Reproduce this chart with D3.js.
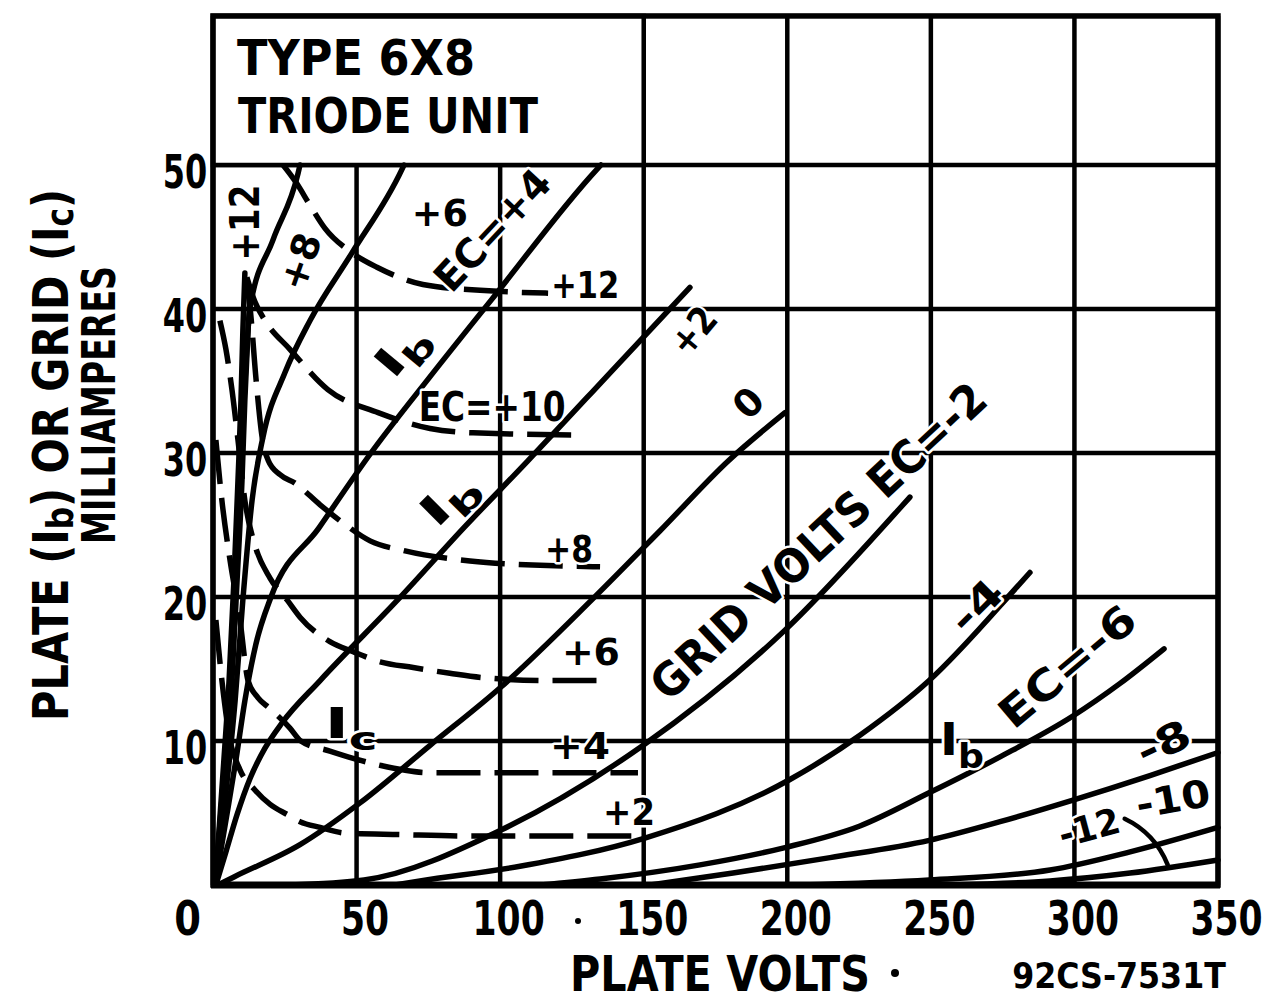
<!DOCTYPE html>
<html><head><meta charset="utf-8">
<script src="https://cdn.jsdelivr.net/npm/d3@7"></script>
<style>html,body{margin:0;padding:0;background:#fff;} svg{display:block}</style>
</head><body><svg id="c" width="1264" height="1003"></svg>
<script>
// ---------- data ----------
const X_TICKS = [0, 50, 100, 150, 200, 250, 300, 350];
const Y_TICKS = [10, 20, 30, 40, 50];
const Y_MAX = 60.35;            // top of the ruled area (mA)
const BOX_V = 150, BOX_I = 50;  // title box corner (volts, mA)

// Plate current Ib (solid), points: [plate volts, mA]
const ib_p12 = [[0.7,0],[2.1,3.8],[3.8,8.7],[5.6,14.2],[7.3,21.2],[8.7,28.1],[9.75,33.7],[10.4,38.5],[11.1,42.5]];
const ib_p10 = [[1.0,0],[2.8,3.8],[4.9,8.7],[6.6,14.2],[8.4,21.2],[10.1,28.1],[11.1,33.7],[12.2,38.5],[12.9,40.6]];
const ib_p8  = [[0.7,0],[3.1,5.9],[5.6,12.8],[7.3,19.8],[9.1,26.7],[10.8,33.7],[12.9,40.1],[20.9,44.8],[29.6,49.4],[30.3,50]];
const ib_p6  = [[0.7,0],[4.2,5.9],[7.7,12.8],[10.4,19.8],[13.6,26.7],[17.4,31.1],[25.1,35.6],[33.8,39.2],[48.4,43.9],[65.8,49.7],[66.5,50]];
const ib_p4  = [[0.7,0],[4.5,4.5],[8.0,8.7],[11.1,12.8],[14.9,16.7],[20.2,20],[36.9,24.8],[55.0,30.0],[75.2,35.2],[96.8,40.6],[133.7,49.7],[135.1,50]];
const ib_p2  = [[1.0,0],[4.5,2.3],[8.4,4.9],[12.9,7.4],[18.1,9.5],[24.0,11.25],[37.3,14.2],[64.8,19.9],[87.8,24.9],[109.4,29.4],[141.7,36.3],[166.1,41.5]];
const ib_0   = [[1.7,0],[7.3,0.56],[30.3,2.8],[51.2,5.7],[75.6,9.7],[100.3,13.75],[131.9,19.8],[155.7,24.6],[179.7,29.5],[199.2,32.8]];
const ib_m2  = [[26.8,0],[52.6,0.35],[100.3,3.82],[149.1,9.6],[199.2,17.7],[239.6,26.25],[242.7,26.94]];
const ib_m4  = [[63.4,0],[72.1,0.28],[106.9,1.3],[150.4,3.26],[200.6,7.29],[225.3,10.4],[249.4,14.2],[280,20.7],[284.5,21.7]];
const ib_m6  = [[113.9,0],[134.8,0.42],[169.6,1.4],[199.2,2.6],[225.3,4.1],[249.4,6.4],[274.1,8.9],[299.2,11.7],[315.9,14.0],[331.2,16.4]];
const ib_m8  = [[152.2,0],[181.1,0.83],[214.9,1.9],[249.4,3.1],[274.1,4.4],[299.5,5.9],[326.3,7.6],[350,9.2]];
const ib_m10 = [[204.4,0],[249.4,0.35],[291.5,1.04],[319.4,2.3],[350,4.0]];
const ib_m12 = [[256.7,0],[291.5,0.28],[319.4,0.83],[350,1.74]];

// Grid current Ic (dashed), points: [plate volts, mA]
const ic_p12 = [[24.4,50],[28.9,48.8],[33.8,47.2],[39,45.6],[47.7,44],[57.1,42.9],[73.1,41.7],[93,41.3],[116.7,41.1]];
const ic_p10 = [[11.8,42.2],[14.6,40.5],[18.1,39.2],[26.8,37.2],[40.0,34.4],[57.5,32.8],[75.6,31.7],[90.6,31.4],[128.9,31.25]];
const ic_p8  = [[11.5,42.0],[12.9,40.1],[15.0,35.1],[17.1,31.1],[19.2,29.5],[23.3,28.5],[28.6,27.9],[37.3,26.4],[44.9,25.2],[54.7,23.9],[66.9,23.2],[89.5,22.5],[113.9,22.2],[134.8,22.1]];
const ic_p6  = [[2.4,39.2],[4.5,37.2],[6.6,34.4],[8.7,30.9],[11.1,26.7],[14.6,23.6],[19.9,21.3],[25.8,19.8],[30.3,18.6],[40.7,16.9],[48.8,16.2],[58.2,15.5],[69.7,15.1],[82.5,14.7],[94,14.4],[117.4,14.2],[138.3,14.2]];
const ic_p4  = [[1,30.9],[3.1,26.7],[5.9,22.6],[9.4,18.4],[12.2,14.2],[15.7,13.0],[19.5,12.3],[26.8,10.9],[30.6,10],[40.7,9.3],[48.8,8.8],[58.5,8.3],[75.9,7.8],[100,7.8],[148,7.8]];
const ic_p2  = [[1,18.4],[3.1,14.2],[5.9,10.1],[9.4,8],[14.6,6.6],[19.9,5.6],[25.8,4.9],[30.3,4.4],[37.3,4],[46.3,3.6],[65.1,3.5],[88.1,3.4],[114.2,3.4],[149,3.4]];

const IB_SERIES = [ib_p12, ib_p10, ib_p8, ib_p6, ib_p4, ib_p2, ib_0, ib_m2, ib_m4, ib_m6, ib_m8, ib_m10, ib_m12];
const IC_SERIES = [ic_p12, ic_p10, ic_p8, ic_p6, ic_p4, ic_p2];

// ---------- drawing ----------
const FONT = "'DejaVu Sans','Liberation Sans',sans-serif";
const svg = d3.select("#c");
svg.append("rect").attr("width",1264).attr("height",1003).attr("fill","#fff");

const x = d3.scaleLinear().domain([0, 350]).range([213, 1218]);
const y = d3.scaleLinear().domain([0, 50]).range([885, 165]);

function addText(segs, o) {
  const g = svg.append("g").attr("transform", `translate(${o.x},${o.y}) rotate(${o.rot || 0})`);
  const t = g.append("text").attr("text-anchor", "middle").attr("dy", "0.36em")
    .attr("fill", "#000").style("font-family", FONT).style("font-weight", "bold")
    .style("font-size", o.size + "px");
  if (typeof segs === "string") segs = [{t: segs}];
  const sh = o.subShift == null ? 0.28 : o.subShift;
  let shifted = false;
  segs.forEach(s => {
    const ts = t.append("tspan").text(s.t);
    if (s.sub) { ts.style("font-size", (o.size * 0.75) + "px").attr("dy", o.size * sh); shifted = true; }
    else if (shifted) { ts.attr("dy", -o.size * sh); shifted = false; }
  });
  if (o.halo) t.attr("stroke", "#fff").attr("stroke-width", o.halo).attr("stroke-linejoin", "round").attr("paint-order", "stroke");
  if (o.len) {
    const w = t.node().getBBox().width;
    if (w > 0) t.attr("transform", `scale(${o.len / w},1)`);
  }
  return t;
}

// grid
const grid = svg.append("g").attr("stroke", "#000").attr("stroke-width", 4.5);
X_TICKS.forEach(v => grid.append("line").attr("x1", x(v)).attr("x2", x(v)).attr("y1", y(0)).attr("y2", y(Y_MAX)));
Y_TICKS.forEach(v => grid.append("line").attr("x1", x(0)).attr("x2", x(350)).attr("y1", y(v)).attr("y2", y(v)));

// title box
svg.append("rect").attr("x", x(0)).attr("y", y(Y_MAX)).attr("width", x(BOX_V) - x(0)).attr("height", y(BOX_I) - y(Y_MAX))
  .attr("fill", "#fff").attr("stroke", "#000").attr("stroke-width", 4.5);

// curves
const line = d3.line().x(d => x(d[0])).y(d => y(d[1])).curve(d3.curveMonotoneX);
const curves = svg.append("g").attr("fill", "none").attr("stroke", "#000").attr("stroke-linecap", "round").attr("stroke-linejoin", "round");
IB_SERIES.forEach(s => curves.append("path").attr("d", line(s)).attr("stroke-width", 5.5));
IC_SERIES.forEach(s => curves.append("path").attr("d", line(s)).attr("stroke-width", 5.5).attr("stroke-dasharray", "44 14").attr("stroke-linecap", "butt"));

// leader from "-12" label to its curve
curves.append("path").attr("stroke-width", 4.5)
  .attr("d", `M${x(317.5)},${y(4.6)} Q${x(328)},${y(3.6)} ${x(332.5)},${y(1.4)}`);

// frame
svg.append("rect").attr("x", x(0)).attr("y", y(Y_MAX)).attr("width", x(350) - x(0)).attr("height", y(0) - y(Y_MAX))
  .attr("fill", "none").attr("stroke", "#000").attr("stroke-width", 5.5);
svg.append("line").attr("x1", x(0) - 2).attr("x2", x(350) + 2).attr("y1", y(0)).attr("y2", y(0)).attr("stroke", "#000").attr("stroke-width", 7);

// axes (tick labels through d3 axes)
const xAxis = svg.append("g").attr("transform", `translate(0,${y(0)})`)
  .call(d3.axisBottom(x).tickValues(X_TICKS).tickSize(0).tickFormat(d3.format("d")));
xAxis.select(".domain").remove();
xAxis.selectAll(".tick text").each(function(d) {
  const s = String(d);
  d3.select(this).attr("y", 0).attr("dy", "0.36em")
    .attr("transform", `translate(${d === 0 ? -26 : 8},33) scale(${s.length === 1 ? 0.8 : 0.72},1)`)
    .style("font-family", FONT).style("font-weight", "bold").style("font-size", "48px").attr("fill", "#000");
});
const yAxis = svg.append("g").attr("transform", `translate(${x(0)},0)`)
  .call(d3.axisLeft(y).tickValues(Y_TICKS).tickSize(0).tickFormat(d3.format("d")));
yAxis.select(".domain").remove();
yAxis.selectAll(".tick text").each(function() {
  d3.select(this).attr("x", 0).attr("dy", "0.36em").attr("text-anchor", "middle")
    .attr("transform", `translate(-28,6) scale(0.68,1)`)
    .style("font-family", FONT).style("font-weight", "bold").style("font-size", "47px").attr("fill", "#000");
});

// titles
addText("TYPE 6X8", {x: 356, y: 57, size: 50, len: 238});
addText("TRIODE UNIT", {x: 388, y: 115, size: 50, len: 300});
addText([{t: "PLATE (I"}, {t: "b", sub: true}, {t: ") OR GRID (I"}, {t: "c", sub: true}, {t: ")"}],
        {x: 50, y: 455, rot: -90, size: 50, len: 532, subShift: 0.1});
addText("MILLIAMPERES", {x: 98, y: 405, rot: -90, size: 47, len: 278});
addText("PLATE VOLTS", {x: 720, y: 973, size: 50, len: 300});
addText("92CS-7531T", {x: 1119, y: 975, size: 36, len: 214});
svg.append("circle").attr("cx", 895).attr("cy", 973).attr("r", 4).attr("fill", "#000");
svg.append("circle").attr("cx", 578).attr("cy", 921).attr("r", 3).attr("fill", "#000");

// curve labels (positions in volts / mA)
const IB = [{t: "I"}, {t: "b", sub: true}];
const IC = [{t: "I"}, {t: "c", sub: true}];
const LABELS = [
  {s: "+12", v: 11.1, i: 46.0, rot: -90, size: 40, len: 76},
  {s: "+8", v: 30.3, i: 43.3, rot: -71, size: 38, len: 58},
  {s: "+6", v: 79, i: 46.7, rot: 0, size: 38, len: 56},
  {s: "EC=+4", v: 97.2, i: 45.5, rot: -47, size: 40, len: 150},
  {s: IB, v: 65.1, i: 37.2, rot: -50, size: 42, len: 56},
  {s: IB, v: 81.5, i: 26.9, rot: -45, size: 42, len: 60},
  {s: "+2", v: 167.2, i: 38.5, rot: -50, size: 38, len: 50},
  {s: "0", v: 186.3, i: 33.5, rot: -45, size: 38, len: 26},
  {s: "GRID VOLTS EC=-2", v: 210.7, i: 23.9, rot: -43, size: 46, len: 440},
  {s: "-4", v: 265.7, i: 19.4, rot: -45, size: 40, len: 58},
  {s: "EC=-6", v: 297.4, i: 15.2, rot: -40, size: 42, len: 165},
  {s: "-8", v: 330.9, i: 9.9, rot: -25, size: 40, len: 55},
  {s: "-10", v: 334.3, i: 6.0, rot: -10, size: 38, len: 75},
  {s: "-12", v: 305.1, i: 4.0, rot: -15, size: 36, len: 62},
  {s: IB, v: 260.8, i: 10.1, rot: 0, size: 44, len: 44},
  {s: IC, v: 48.1, i: 11.25, rot: 0, size: 42, len: 53},
  {s: "+12", v: 129.6, i: 41.7, rot: 0, size: 38, len: 68},
  {s: "EC=+10", v: 97.2, i: 33.2, rot: 0, size: 40, len: 147},
  {s: "+8", v: 124, i: 23.4, rot: 0, size: 38, len: 48},
  {s: "+6", v: 131.6, i: 16.2, rot: 0, size: 38, len: 58},
  {s: "+4", v: 127.8, i: 9.7, rot: 0, size: 38, len: 60},
  {s: "+2", v: 144.9, i: 5.1, rot: 0, size: 38, len: 52}
];
LABELS.forEach(l => addText(l.s, {x: x(l.v), y: y(l.i), rot: l.rot, size: l.size, len: l.len, halo: 5}));
</script>
</body></html>
